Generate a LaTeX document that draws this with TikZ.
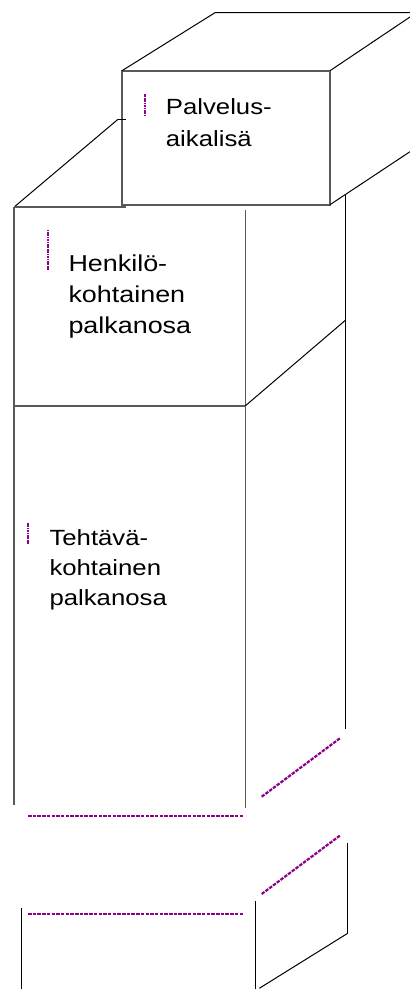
\documentclass[tikz,border=0pt]{standalone}
\usepackage{fontspec}
\setmainfont{Liberation Sans}[FakeStretch=1.17]
\definecolor{cutpurple}{RGB}{140,0,140}
\begin{document}
\begin{tikzpicture}[x=1pt,y=-1pt,
  edge/.style={draw=black!65,line width=1.8pt},
  thin/.style={draw=black,line width=1pt},
  cut/.style={draw=cutpurple,line width=2.2pt,dash pattern=on 3.5pt off 1.2pt},
  bar/.style={draw=cutpurple,line width=1.8pt,dash pattern=on 1.2pt off 0.5pt},
  lbl/.style={anchor=base west,inner sep=0pt,align=left}]
\useasboundingbox (0,0) rectangle (410,989);
% top box
\draw[edge] (122,70.7) rectangle (330,204.7);
\draw[thin] (122,70.7) -- (215,12.7) -- (410,12.7);
\draw[thin] (330,70.7) -- (410,17);
\draw[thin] (330,204.7) -- (410,151.7);
% middle box
\draw[thin] (118,119.3) -- (125.7,119.3);
\draw[thin] (14.5,206.7) -- (118,119.3);
\draw[edge] (14,206.7) -- (125.7,206.7);
\draw[edge] (14,206.7) -- (14,805);
\draw[edge] (245.5,210) -- (245.5,808);
\draw[edge] (14,405.7) -- (245.5,405.7);
\draw[thin] (345.7,194) -- (345.7,729.3);
\draw[thin] (345.7,320) -- (245.5,405.7);
% cut marks
\draw[cut] (28,816) -- (243.3,816);
\draw[cut] (261.7,796.7) -- (340.7,737.7);
\draw[cut] (28,913.7) -- (243.3,913.7);
\draw[cut] (261.7,894) -- (340.7,835);
% bottom piece
\draw[thin] (21.7,908.3) -- (21.7,989);
\draw[thin] (255,901) -- (255,989);
\draw[thin] (347.7,843.3) -- (347.7,933.3);
\draw[thin] (347.7,933.3) -- (259.3,988.3);
% bullets
\draw[bar] (145,94.3) -- (145,115);
\draw[bar] (48.3,230) -- (48.3,269.3);
\draw[bar] (28.3,522.7) -- (28.3,544);
% labels (anchored at the baseline of the last line)
\node[lbl,font=\fontsize{22}{32.4}\selectfont] (t1) at (165.7,146.7) {Palvelus-\\aikalisä};
\node[lbl,font=\fontsize{23}{31}\selectfont] (t2) at (68.3,333.3) {Henkilö-\\kohtainen\\palkanosa};
\node[lbl,font=\fontsize{22}{29.7}\selectfont] (t3) at (49.3,605) {Tehtävä-\\kohtainen\\palkanosa};
\end{tikzpicture}
\end{document}
